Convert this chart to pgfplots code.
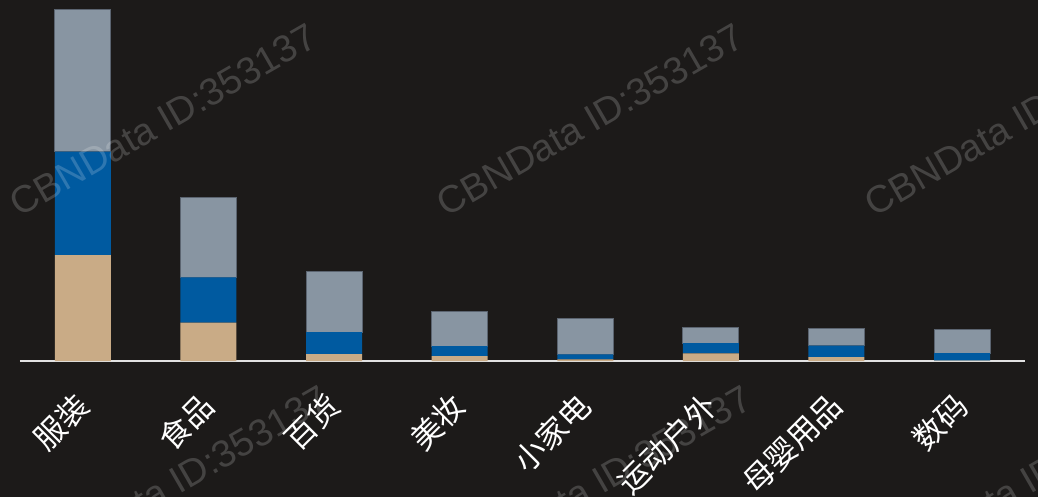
\documentclass[border=0pt]{standalone}
\usepackage{fontspec}
\usepackage{pgfplots}
\pgfplotsset{compat=1.18}
\setmainfont{Liberation Sans}
\newfontfamily\cjk{Noto Sans CJK SC}
\definecolor{bg}{HTML}{1C1A19}
\definecolor{tan}{HTML}{C9AB86}
\definecolor{blu}{HTML}{005AA0}
\definecolor{gry}{HTML}{8895A2}
\definecolor{gryb}{HTML}{5B6470}
\definecolor{axl}{HTML}{E2E2E2}
\begin{document}
\begin{tikzpicture}[x=1pt,y=1pt]
\fill[bg] (0,0) rectangle (1038,497);
\begin{axis}[
  at={(20pt,136pt)}, anchor=south west,
  width=1005pt, height=361pt, scale only axis,
  xmin=-0.5, xmax=7.5, ymin=0, ymax=361,
  ybar stacked, bar width=56pt,
  axis x line=bottom, axis y line=none,
  x axis line style={-, draw=axl, line width=2pt},
  xtick={0,1,2,3,4,5,6,7},
  xticklabels={服装,食品,百货,美妆,小家电,运动户外,母婴用品,数码},
  xticklabel style={font=\cjk\fontsize{31}{31}\selectfont, text=white, rotate=45, anchor=east, inner sep=0pt},
  xticklabel shift=39pt,
  major tick length=0pt,
  ytick=\empty,
  clip=false,
]
\addplot[fill=tan, draw=none] coordinates {(0,106) (1,38.3) (2,7) (3,5) (4,1.7) (5,7.7) (6,4) (7,0.4)};
\addplot[fill=blu, draw=none] coordinates {(0,103.3) (1,45.3) (2,22) (3,10) (4,5) (5,10.3) (6,11.3) (7,7.6)};
\addplot[fill=gry, draw=gryb, line width=0.8pt] coordinates {(0,142.2) (1,79.6) (2,60.3) (3,35) (4,36.3) (5,16) (6,17.4) (7,24)};
\end{axis}
\begin{scope}
\clip (0,0) rectangle (1038,497);
\foreach \x/\y in {163/377, 590/377, 1018/377, 175/15, 598/15, 1026/15}{
  \node[rotate=30, text=white, opacity=0.18, font=\fontsize{38}{38}\selectfont, inner sep=0pt] at (\x,\y) {CBNData ID:353137};
}
\end{scope}
\end{tikzpicture}
\end{document}
